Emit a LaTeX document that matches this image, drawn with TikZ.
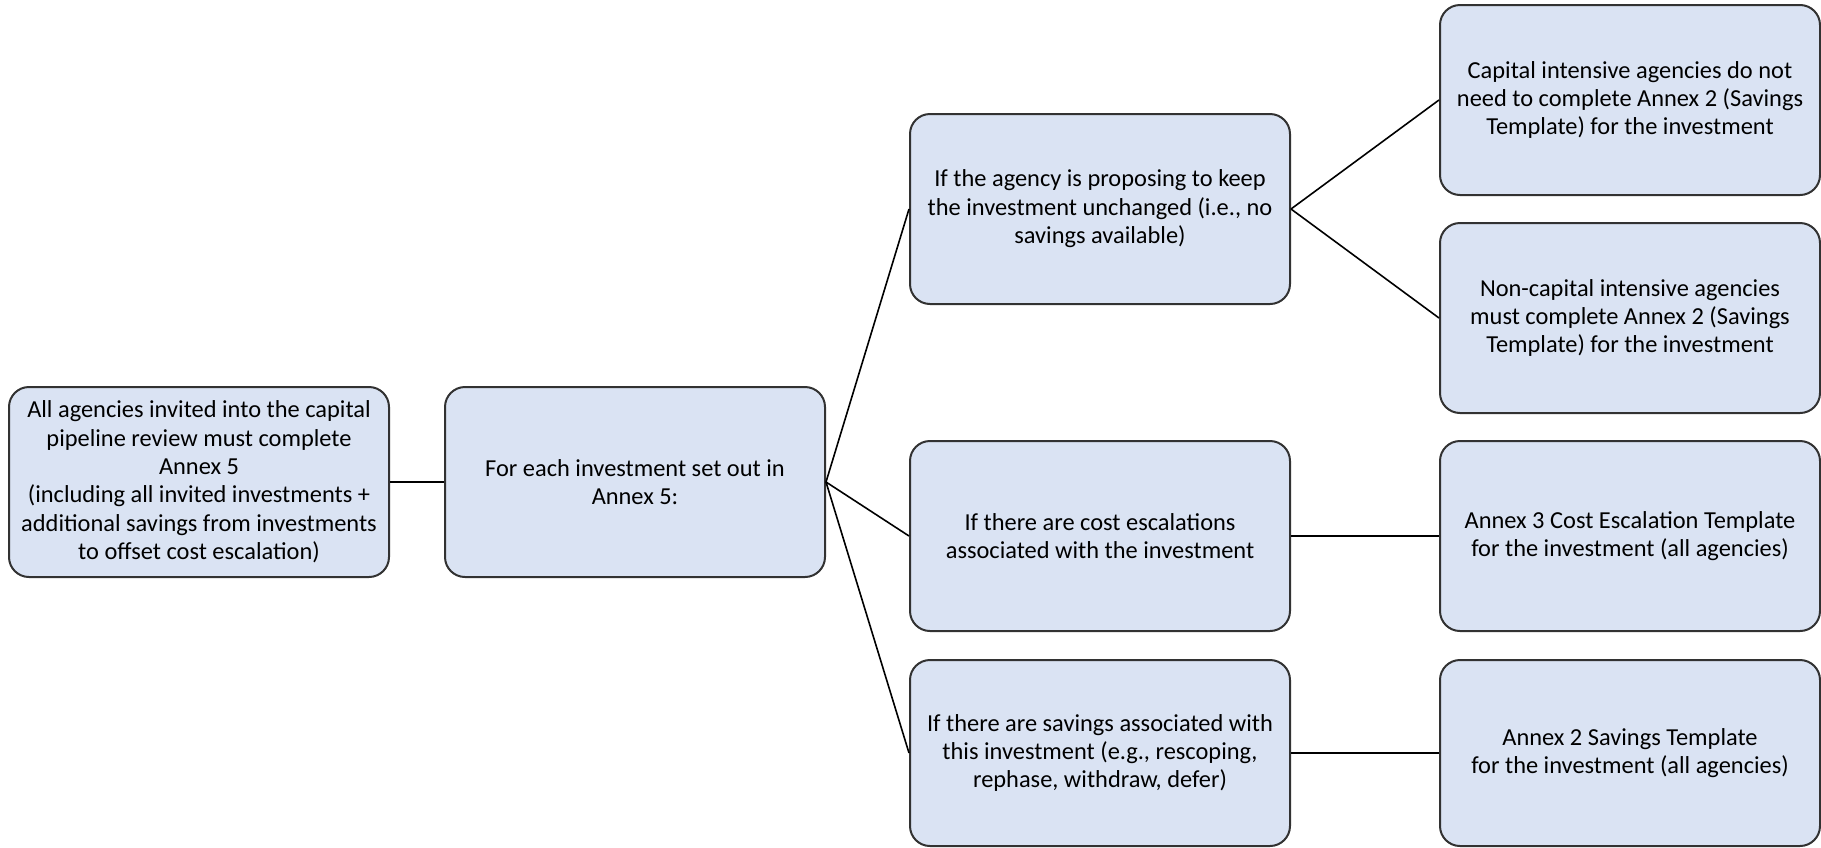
\documentclass[tikz,border=0pt]{standalone}
\usepackage{fontspec}
\setmainfont{Carlito}
\definecolor{boxfill}{RGB}{218,227,243}
\definecolor{boxline}{RGB}{50,50,50}
\begin{document}
\begin{tikzpicture}[x=0.5pt,y=-0.5pt,
  box/.style={draw=boxline, line width=1pt, fill=boxfill, rounded corners=10pt,
    minimum width=190pt, minimum height=95pt, align=center, inner sep=0pt,
    font=\fontsize{12.2}{14.2}\selectfont},
  lowbox/.style={box, minimum height=93pt},
  link/.style={draw=black, line width=0.8pt}]
\useasboundingbox (0,0) rectangle (1821,847);
\node[box] (A) at (199,482) {All agencies invited into the capital\\pipeline review must complete\\Annex 5\\(including all invited investments +\\additional savings from investments\\to offset cost escalation)};
\node[box] (B) at (635,482) {For each investment set out in\\Annex 5:};
\node[box] (C1) at (1100,209) {If the agency is proposing to keep\\the investment unchanged (i.e., no\\savings available)};
\node[box] (C2) at (1100,536) {If there are cost escalations\\associated with the investment};
\node[lowbox] (C3) at (1100,753) {If there are savings associated with\\this investment (e.g., rescoping,\\rephase, withdraw, defer)};
\node[box] (D1) at (1630,100) {Capital intensive agencies do not\\need to complete Annex 2 (Savings\\Template) for the investment};
\node[box] (D2) at (1630,318) {Non-capital intensive agencies\\must complete Annex 2 (Savings\\Template) for the investment};
\node[box] (D3) at (1630,536) {Annex 3 Cost Escalation Template\\for the investment (all agencies)};
\node[lowbox] (D4) at (1630,753) {Annex 2 Savings Template\\for the investment (all agencies)};
\draw[link] (A.east) -- (B.west);
\draw[link] (B.east) -- (C1.west);
\draw[link] (B.east) -- (C2.west);
\draw[link] (B.east) -- (C3.west);
\draw[link] (C1.east) -- (D1.west);
\draw[link] (C1.east) -- (D2.west);
\draw[link] (C2.east) -- (D3.west);
\draw[link] (C3.east) -- (D4.west);
\end{tikzpicture}
\end{document}
